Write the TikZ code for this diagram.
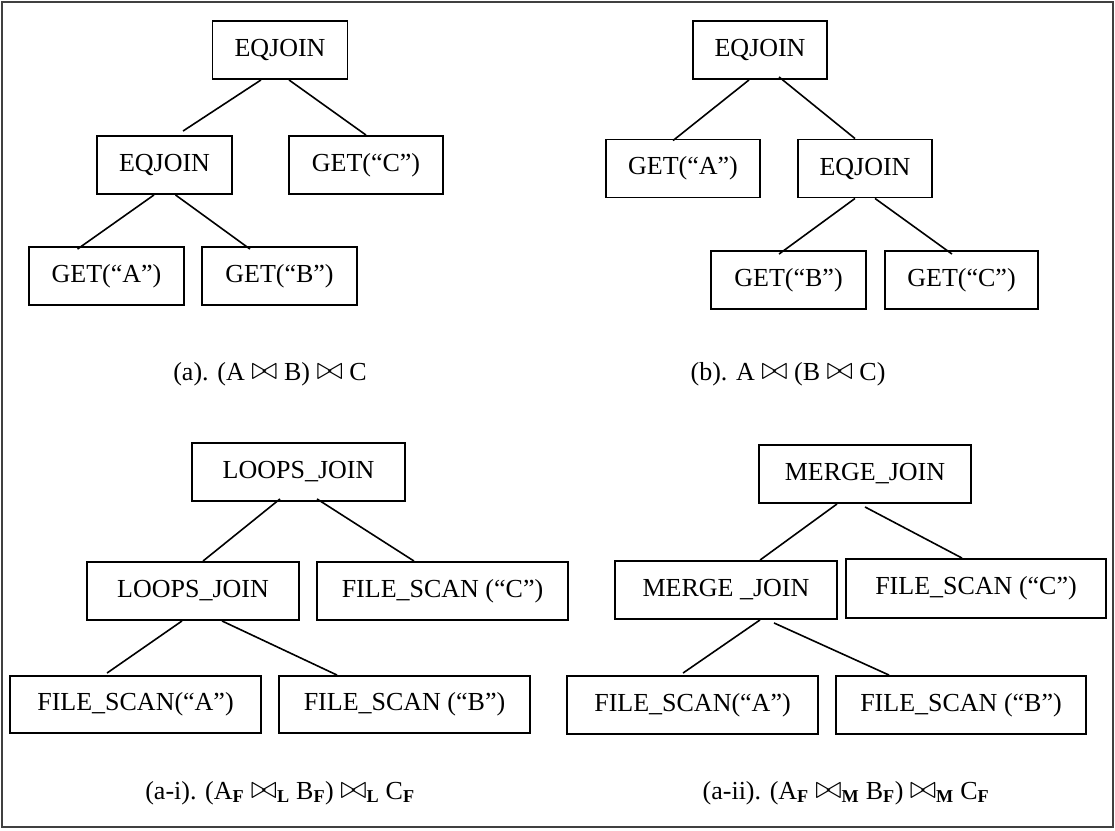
\documentclass[tikz,border=0pt]{standalone}
\usepackage{fontspec}
\setmainfont{Liberation Serif}
\newcommand\bxfont{\fontsize{26}{30}\selectfont}
\newcommand\sbf[1]{\textsubscript{\textbf{#1}}}
\newcommand\bt{\raisebox{0.5pt}{\scalebox{1.3}{$\bowtie$}}}
\begin{document}
\begin{tikzpicture}[x=1pt,y=-1pt,
  box/.style={draw, line width=1.9pt, inner sep=0pt, font=\bxfont, minimum height=58pt},
  edge/.style={line width=1.6pt},
  captxt/.style={font=\bxfont, inner sep=0pt}]
\useasboundingbox (0,0) rectangle (1115,830);
\draw[line width=1.8pt, black!75] (2,2) rectangle (1113,827);
% (a)
\node[box, minimum width=135pt] (t1) at (280,50) {EQJOIN};
\node[box, minimum width=135pt] (m1) at (164.5,165) {EQJOIN};
\node[box, minimum width=154pt] (c1) at (366,165) {GET(“C”)};
\node[box, minimum width=155pt] (a1) at (106.5,276) {GET(“A”)};
\node[box, minimum width=155pt] (b1) at (279.5,276) {GET(“B”)};
\draw[edge] ([xshift=-19pt]t1.south) -- ([xshift=18.5pt,yshift=4pt]m1.north);
\draw[edge] ([xshift=9pt]t1.south) -- (c1.north);
\draw[edge] ([xshift=-10.5pt]m1.south) -- ([xshift=-29pt,yshift=-3pt]a1.north);
\draw[edge] ([xshift=11pt]m1.south) -- ([xshift=-29.5pt,yshift=-3pt]b1.north);
\node[captxt] (capa) at (270,374) {(a). (A \bt{} B) \bt{} C};
% (b)
\node[box, minimum width=134pt] (t2) at (760,50) {EQJOIN};
\node[box, minimum width=154pt] (a2) at (683,168.5) {GET(“A”)};
\node[box, minimum width=134pt] (m2) at (865,168.5) {EQJOIN};
\node[box, minimum width=155pt] (b2) at (788.5,280) {GET(“B”)};
\node[box, minimum width=153pt] (c2) at (961.5,280) {GET(“C”)};
\draw[edge] ([xshift=-11pt]t2.south) -- ([xshift=-10pt,yshift=-2pt]a2.north);
\draw[edge] ([xshift=19pt,yshift=3pt]t2.south) -- ([xshift=-10pt]m2.north);
\draw[edge] ([xshift=-10pt]m2.south) -- ([xshift=-9.5pt,yshift=-4pt]b2.north);
\draw[edge] ([xshift=10pt]m2.south) -- ([xshift=-9.5pt,yshift=-4pt]c2.north);
\node[captxt] (capb) at (788,374) {(b). A \bt{} (B \bt{} C)};
% (a-i)
\node[box, minimum width=213pt] (t3) at (298.5,472) {LOOPS\_JOIN};
\node[box, minimum width=212pt] (m3) at (193,591) {LOOPS\_JOIN};
\node[box, minimum width=251pt] (c3) at (442.5,591) {FILE\_SCAN (“C”)};
\node[box, minimum width=251pt, minimum height=57pt] (a3) at (135.5,704.5) {FILE\_SCAN(“A”)};
\node[box, minimum width=251pt, minimum height=57pt] (b3) at (404.5,704.5) {FILE\_SCAN (“B”)};
\draw[edge] ([xshift=-18.5pt,yshift=3pt]t3.south) -- ([xshift=10pt]m3.north);
\draw[edge] ([xshift=18.5pt,yshift=3pt]t3.south) -- ([xshift=-28.5pt]c3.north);
\draw[edge] ([xshift=-11pt]m3.south) -- ([xshift=-28.5pt,yshift=2pt]a3.north);
\draw[edge] ([xshift=29pt]m3.south) -- ([xshift=-67.5pt]b3.north);
\node[captxt] (capai) at (280,793) {(a-i). (A\sbf{F} \bt\sbf{L} B\sbf{F}) \bt\sbf{L} C\sbf{F}};
% (a-ii)
\node[box, minimum width=212pt] (t4) at (865,474) {MERGE\_JOIN};
\node[box, minimum width=222pt] (m4) at (726,590) {MERGE \_JOIN};
\node[box, minimum width=260pt, minimum height=59pt] (c4) at (976,588.5) {FILE\_SCAN (“C”)};
\node[box, minimum width=251pt] (a4) at (692.5,705) {FILE\_SCAN(“A”)};
\node[box, minimum width=250pt] (b4) at (961,705) {FILE\_SCAN (“B”)};
\draw[edge] ([xshift=-28pt]t4.south) -- ([xshift=34pt]m4.north);
\draw[edge] ([yshift=-3pt]t4.south) -- ([xshift=-14pt]c4.north);
\draw[edge] ([xshift=34pt]m4.south) -- ([xshift=-9.5pt,yshift=2pt]a4.north);
\draw[edge] ([xshift=48pt,yshift=-3pt]m4.south) -- ([xshift=-72pt]b4.north);
\node[captxt] (capaii) at (846,793) {(a-ii). (A\sbf{F} \bt\sbf{M} B\sbf{F}) \bt\sbf{M} C\sbf{F}};
\end{tikzpicture}
\end{document}
